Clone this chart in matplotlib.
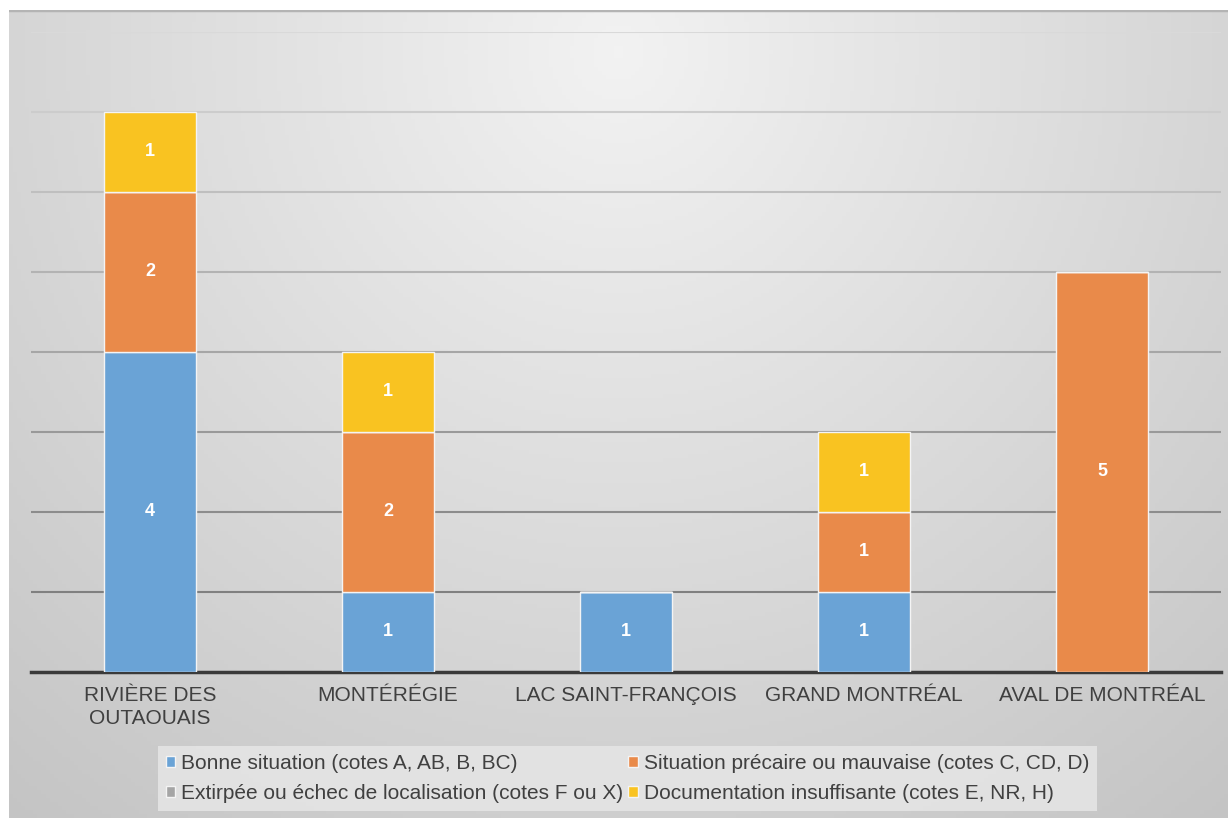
import matplotlib
matplotlib.use('Agg')
import matplotlib.pyplot as plt
import numpy as np

plt.rcParams['font.family'] = ['Liberation Sans', 'DejaVu Sans']

# data
regions = ['RIVIÈRE DES\nOUTAOUAIS', 'MONTÉRÉGIE', 'LAC SAINT-FRANÇOIS',
           'GRAND MONTRÉAL', 'AVAL DE MONTRÉAL']
series_names = ['Bonne situation (cotes A, AB, B, BC)',
                'Situation précaire ou mauvaise (cotes C, CD, D)',
                'Extirpée ou échec de localisation (cotes F ou X)',
                'Documentation insuffisante (cotes E, NR, H)']
bonne = [4, 1, 1, 1, 0]
precaire = [2, 2, 0, 1, 5]
extirpee = [0, 0, 0, 0, 0]
documentation = [1, 1, 0, 1, 0]
colors = ['#6AA3D6', '#E98A4A', '#A5A5A5', '#F9C321']

W, H = 1228, 818
fig = plt.figure(figsize=(W / 100, H / 100), dpi=100)
fig.patch.set_facecolor('white')

# background panel with a soft radial gradient
bg = fig.add_axes([9 / W, 0, 1 - 9 / W, (H - 10) / H])
ny, nx = 200, 300
yy, xx = np.mgrid[0:1:ny * 1j, 0:1:nx * 1j]
d = np.sqrt(((xx - 0.5) / 0.75) ** 2 + ((yy - 0.05) / 1.15) ** 2)
shade = 0.95 - 0.17 * np.clip(d, 0, 1.2)
bg.imshow(np.dstack([shade] * 3), aspect='auto', extent=(0, 1, 1, 0))
bg.axhline(0.0, color='#b4b4b4', lw=2.5)
bg.set_xlim(0, 1)
bg.set_ylim(1, 0)
bg.axis('off')

ax = fig.add_axes([31 / W, (H - 672) / H, 1190 / W, 640 / H])
ax.set_facecolor('none')
x = np.arange(len(regions))
bottom = np.zeros(len(regions))
handles = []
for vals, name, c in zip([bonne, precaire, extirpee, documentation], series_names, colors):
    vals = np.array(vals, dtype=float)
    bars = ax.bar(x, vals, 0.39, bottom=bottom, color=c, edgecolor='#f4f4f4',
                  linewidth=1, label=name, zorder=3)
    handles.append(bars)
    for xi, b, v in zip(x, bottom, vals):
        if v > 0:
            ax.text(xi, b + v / 2, '%d' % v, ha='center', va='center',
                    color='white', fontsize=13, fontweight='bold', zorder=4)
    bottom += vals

ax.set_xlim(-0.5, len(regions) - 0.5)
ax.set_ylim(0, 8)
ax.set_yticks(np.arange(1, 9))
ax.yaxis.grid(True, linewidth=1.5, zorder=0)
ax.set_axisbelow(True)
gl = ax.yaxis.get_gridlines()
for i, line in enumerate(gl):
    t = i / max(len(gl) - 1, 1)
    g = 0.50 + 0.35 * t
    line.set_color((g, g, g))
ax.tick_params(axis='y', left=False, labelleft=False)
ax.tick_params(axis='x', length=0, pad=10, labelsize=15, labelcolor='#404040')
ax.set_xticks(x)
ax.set_xticklabels(regions, linespacing=1.28)
for s in ['top', 'right', 'left']:
    ax.spines[s].set_visible(False)
ax.spines['bottom'].set_color('#3a3a3a')
ax.spines['bottom'].set_linewidth(2.5)

order = [0, 2, 1, 3]
leg = fig.legend([handles[i] for i in order], [series_names[i] for i in order],
                 loc='center', bbox_to_anchor=(627.5 / W, 1 - 778.5 / H), ncol=2,
                 fontsize=15, frameon=True, fancybox=False, handlelength=0.45,
                 handleheight=0.45, handletextpad=0.3, columnspacing=0.25,
                 labelspacing=0.55, borderpad=0.38, borderaxespad=0,
                 labelcolor='#404040')
leg.get_frame().set_facecolor('#e6e6e6')
leg.get_frame().set_edgecolor('none')
leg.get_frame().set_alpha(0.85)

fig.savefig('out.png', dpi=100)
